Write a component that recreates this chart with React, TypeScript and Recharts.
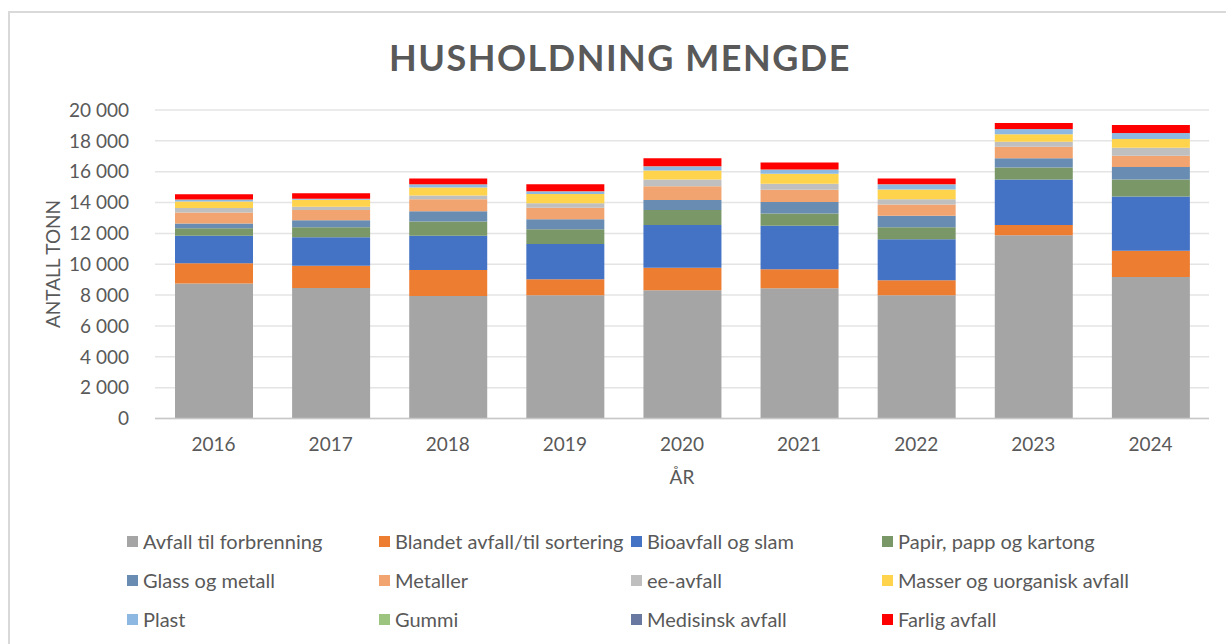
import React from "react";
import { BarChart, Bar, XAxis, YAxis, CartesianGrid, Legend } from "recharts";

const years = ["2016", "2017", "2018", "2019", "2020", "2021", "2022", "2023", "2024"];
const forbrenning = [8750, 8460, 7940, 7990, 8310, 8440, 7990, 11880, 9180];
const blandet = [1310, 1450, 1690, 1040, 1470, 1240, 970, 670, 1690];
const bio = [1780, 1840, 2210, 2290, 2770, 2810, 2660, 2950, 3530];
const papir = [500, 650, 930, 950, 960, 800, 780, 780, 1100];
const glass = [300, 460, 670, 650, 650, 740, 740, 600, 800];
const metaller = [720, 650, 780, 740, 900, 800, 730, 740, 730];
const ee = [280, 210, 240, 300, 440, 390, 350, 320, 520];
const masser = [430, 460, 520, 590, 580, 650, 630, 480, 570];
const plast = [110, 60, 180, 170, 260, 260, 320, 330, 370];
const gummi = [10, 0, 10, 10, 10, 10, 10, 10, 10];
const medisinsk = [10, 0, 10, 10, 10, 10, 10, 10, 10];
const farlig = [330, 370, 380, 450, 520, 450, 370, 390, 520];
const yTicks = [0, 2000, 4000, 6000, 8000, 10000, 12000, 14000, 16000, 18000, 20000];

const seriesNames = [
  "Avfall til forbrenning",
  "Blandet avfall/til sortering",
  "Bioavfall og slam",
  "Papir, papp og kartong",
  "Glass og metall",
  "Metaller",
  "ee-avfall",
  "Masser og uorganisk avfall",
  "Plast",
  "Gummi",
  "Medisinsk avfall",
  "Farlig avfall",
];
const seriesValues = [forbrenning, blandet, bio, papir, glass, metaller, ee, masser, plast, gummi, medisinsk, farlig];
const seriesColors = [
  "#A5A5A5", "#ED7D31", "#4472C4", "#7A9768",
  "#698DB2", "#F1A46F", "#BFBFBF", "#FFD34C",
  "#8DB8E2", "#9DC47E", "#6878A0", "#FF0000",
];

const data = years.map((y, i) => {
  const row: Record<string, string | number> = { year: y };
  seriesNames.forEach((n, s) => {
    row[n] = seriesValues[s][i];
  });
  return row;
});

const FONT = "Lato, 'Open Sans', sans-serif";
const TXT = "#595959";

const fmt = (v: number) => {
  const s = String(v);
  return s.length > 3 ? s.slice(0, s.length - 3) + " " + s.slice(s.length - 3) : s;
};

const legendCols = [127, 379, 631, 882];
const legendRows = [16, 55, 94];

const LegendContent = () => (
  <div style={{ position: "relative", width: 1226, height: 110, fontFamily: FONT }}>
    {seriesNames.map((n, i) => {
      const col = i % 4;
      const row = Math.floor(i / 4);
      return (
        <div
          key={n}
          style={{
            position: "absolute",
            left: legendCols[col],
            top: legendRows[row] - 12,
            height: 24,
            display: "flex",
            alignItems: "center",
            whiteSpace: "nowrap",
            fontSize: 20,
            color: TXT,
          }}
        >
          <span style={{ display: "inline-block", width: 11, height: 11, background: seriesColors[i], marginRight: 5 }} />
          <span>{n}</span>
        </div>
      );
    })}
  </div>
);

const YLabel = () => (
  <text
    x={52}
    y={264}
    transform="rotate(-90 52 264)"
    textAnchor="middle"
    dominantBaseline="central"
    fill={TXT}
    fontSize={19}
    fontFamily={FONT}
  >
    ANTALL TONN
  </text>
);

export default function App() {
  return (
    <div style={{ position: "absolute", left: 0, top: 0, width: 1226, height: 644, overflow: "hidden", background: "#fff" }}>
      <div
        style={{
          position: "absolute",
          left: 8,
          top: 11,
          width: 1240,
          height: 660,
          border: "2px solid #D9D9D9",
          boxSizing: "border-box",
        }}
      />
      <div
        style={{
          position: "absolute",
          left: 0,
          top: 33,
          width: 1240,
          textAlign: "center",
          fontFamily: FONT,
          fontWeight: 700,
          fontSize: 36,
          letterSpacing: 1.5,
          color: TXT,
          lineHeight: "48px",
        }}
      >
        HUSHOLDNING MENGDE
      </div>
      <BarChart
        width={1226}
        height={644}
        data={data}
        margin={{ top: 110, right: 17, left: 0, bottom: 195.5 }}
        barSize={78}
        style={{ position: "absolute", left: 0, top: 0 }}
      >
        <CartesianGrid vertical={false} stroke="#E4E4E4" strokeWidth={1.5} />
        <XAxis
          dataKey="year"
          height={30}
          tickSize={0}
          tickMargin={19}
          axisLine={{ stroke: "#C8C8C8", strokeWidth: 1.5 }}
          tick={{ fill: TXT, fontSize: 19, fontFamily: FONT }}
          label={{ value: "ÅR", position: "bottom", offset: 22, fill: TXT, fontSize: 19, fontFamily: FONT }}
        />
        <YAxis
          width={155}
          domain={[0, 20000]}
          ticks={yTicks}
          interval={0}
          tickSize={0}
          tickMargin={26}
          axisLine={false}
          tickFormatter={fmt}
          tick={{ fill: TXT, fontSize: 19, fontFamily: FONT }}
          label={<YLabel />}
        />
        <Legend
          layout="horizontal"
          verticalAlign="middle"
          align="center"
          content={<LegendContent />}
          wrapperStyle={{ left: 0, top: 525, width: 1226, height: 110 }}
        />
        {seriesNames.map((n, i) => (
          <Bar key={n} dataKey={n} stackId="a" fill={seriesColors[i]} isAnimationActive={false} />
        ))}
      </BarChart>
    </div>
  );
}
